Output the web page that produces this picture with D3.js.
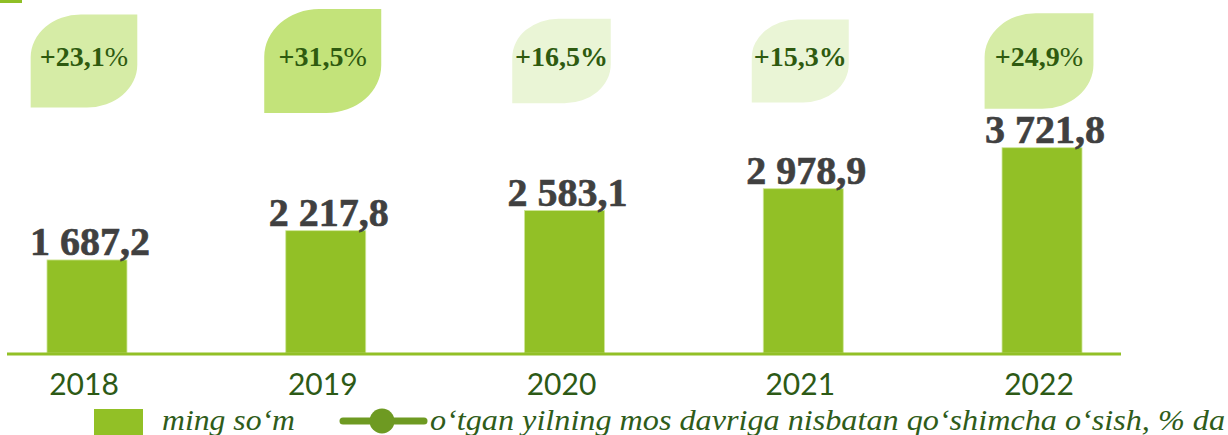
<!DOCTYPE html>
<html><head><meta charset="utf-8">
<script src="https://cdn.jsdelivr.net/npm/d3@7"></script>
<style>html,body{margin:0;padding:0;background:#fff;overflow:hidden}</style>
</head><body>
<svg id="c" width="1228" height="435"></svg>
<script>
const years = ["2018", "2019", "2020", "2021", "2022"];
const values = [1687.2, 2217.8, 2583.1, 2978.9, 3721.8];
const growth = [23.1, 31.5, 16.5, 15.3, 24.9];
const legendBar = "ming so\u2018m";
const legendLine = "o\u2018tgan yilning mos davriga nisbatan qo\u2018shimcha o\u2018sish, % da";

const svg = d3.select("#c");
const loc = d3.formatLocale({decimal: ",", thousands: " ", grouping: [3], currency: ["", ""]});
const fmtVal = loc.format(",.1f");
const fmtPct = loc.format(".1f");

const x = d3.scaleBand().domain(years).range([-32.4, 1161.4]).paddingInner(0.665).paddingOuter(0.3325);
const y = d3.scaleLinear().domain([0, 6400]).range([353, 0]);
const leafW = d3.scaleLinear().domain([15.3, 31.5]).range([97, 117]);
const leafH = d3.scaleLinear().domain([15.3, 31.5]).range([83, 104]);
const leafColor = d3.scaleThreshold().domain([20, 30]).range(["#eaf5d6", "#d6eca6", "#c3e37a"]);
const leafCY = 61;

// top-left decoration
svg.append("rect").attr("x", 0).attr("y", 0).attr("width", 22).attr("height", 3).attr("fill", "#8fbf26");

// bars
svg.selectAll("rect.bar").data(values).join("rect").attr("class", "bar")
  .attr("x", (d, i) => x(years[i])).attr("width", x.bandwidth())
  .attr("y", d => y(d)).attr("height", d => y(0) - y(d))
  .attr("fill", "#92c026").attr("stroke", "#cfe69a").attr("stroke-width", 0.8);

// axis baseline
svg.append("line").attr("x1", 7).attr("x2", 1121).attr("y1", y(0) + 1).attr("y2", y(0) + 1)
  .attr("stroke", "#92c026").attr("stroke-width", 3);

// value labels
svg.selectAll("text.val").data(values).join("text").attr("class", "val")
  .attr("x", (d, i) => x(years[i]) + x.bandwidth() / 2 + 3)
  .attr("y", d => y(d) - 5)
  .attr("text-anchor", "middle")
  .attr("font-family", "'Liberation Serif', serif").attr("font-weight", "bold")
  .attr("font-size", 40).attr("fill", "#404040")
  .attr("stroke", "#404040").attr("stroke-width", 0.6)
  .text(d => fmtVal(d));

// year labels via axis
const xAxis = d3.axisBottom(x).tickSize(0).tickPadding(0);
const gx = svg.append("g").attr("transform", "translate(-3,395)").call(xAxis);
gx.select(".domain").remove();
gx.selectAll("text").attr("dy", 0).attr("font-family", "Lato, 'Liberation Sans', sans-serif")
  .attr("font-size", 30).attr("fill", "#2d5a16");

// leaves
function leafPath(cx, cy, w, h) {
  const x0 = cx - w / 2, x1 = cx + w / 2, y0 = cy - h / 2, y1 = cy + h / 2;
  const rx = 0.47 * w, ry = 0.46 * h;
  return `M${x0},${y0 + ry} A${rx},${ry} 0 0 1 ${x0 + rx},${y0} L${x1},${y0} L${x1},${y1 - ry} A${rx},${ry} 0 0 1 ${x1 - rx},${y1} L${x0},${y1} Z`;
}
const leaves = svg.selectAll("g.leaf").data(growth).join("g").attr("class", "leaf");
leaves.append("path")
  .attr("d", (d, i) => leafPath(x(years[i]) + x.bandwidth() / 2 - 3, leafCY, leafW(d), leafH(d)))
  .attr("fill", d => leafColor(d));
const lt = leaves.append("text")
  .attr("x", (d, i) => x(years[i]) + x.bandwidth() / 2 - 3)
  .attr("y", leafCY + 5)
  .attr("text-anchor", "middle")
  .attr("font-family", "'Liberation Serif', serif").attr("font-size", 28).attr("fill", "#2e5a0f");
lt.append("tspan").attr("font-weight", "bold").text(d => "+" + fmtPct(d));
lt.append("tspan").attr("font-weight", d => d < 20 ? "bold" : "normal").text("%");

// legend
svg.append("rect").attr("x", 94).attr("y", 409).attr("width", 49).attr("height", 30).attr("fill", "#92c026");
svg.append("text").attr("x", 162).attr("y", 430)
  .attr("font-family", "'Liberation Serif', serif").attr("font-style", "italic")
  .attr("font-size", 29).attr("fill", "#2f5c1a")
  .attr("textLength", 133).attr("lengthAdjust", "spacingAndGlyphs")
  .text(legendBar);
svg.append("line").attr("x1", 343).attr("x2", 424).attr("y1", 421).attr("y2", 421)
  .attr("stroke", "#6e9a22").attr("stroke-width", 7).attr("stroke-linecap", "round");
svg.append("circle").attr("cx", 382).attr("cy", 421).attr("r", 12.5).attr("fill", "#6e9a22");
svg.append("text").attr("x", 430).attr("y", 430)
  .attr("font-family", "'Liberation Serif', serif").attr("font-style", "italic")
  .attr("font-size", 29).attr("fill", "#2f5c1a")
  .attr("textLength", 795).attr("lengthAdjust", "spacingAndGlyphs")
  .text(legendLine);
</script>
</body></html>
